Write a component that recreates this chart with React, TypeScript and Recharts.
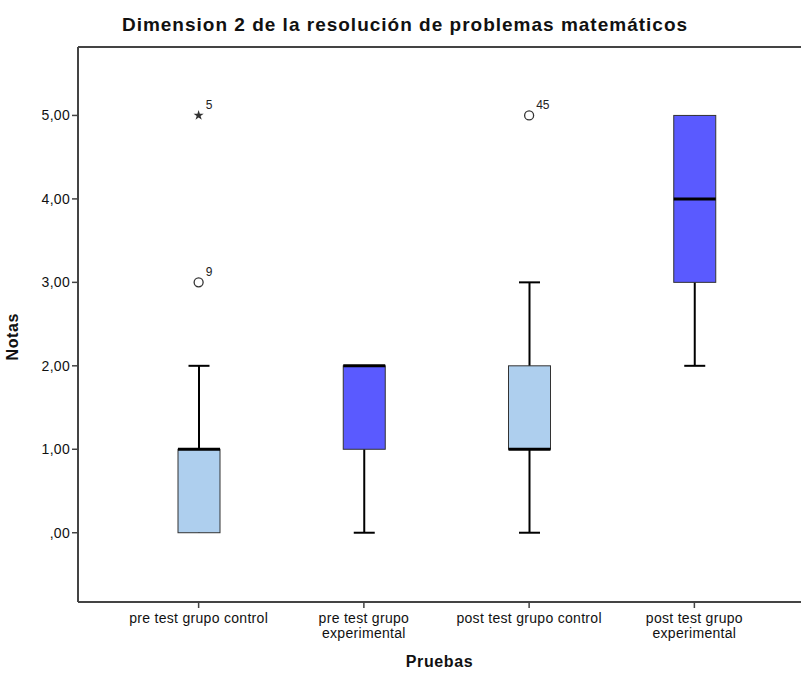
import React from 'react';
import { ComposedChart, Bar, Line, XAxis, YAxis, ReferenceLine, Symbols, Cell } from 'recharts';

const categories = [
  'pre test grupo control',
  'pre test grupo\nexperimental',
  'post test grupo control',
  'post test grupo\nexperimental',
];
const whiskerLow = [0, 0, 0, 2];
const whiskerHigh = [2, 2, 3, 5];
const q1 = [0, 1, 1, 3];
const median = [1, 2, 1, 4];
const q3 = [1, 2, 2, 5];
const outliers = [3, null, 5, null];
const outlierIds = ['9', null, '45', null];
const extremes = [5, null, null, null];
const extremeIds = ['5', null, null, null];
const yTicks = [0, 1, 2, 3, 4, 5];
const yDomain = [-0.83, 5.82];

const boxFills = ['#AECFEE', '#5A5AFF', '#AECFEE', '#5A5AFF'];
const FONT = '"Liberation Sans", Arial, sans-serif';
const FRAME = '#444';

const data = categories.map((name, i) => ({
  name,
  whisker: [whiskerLow[i], whiskerHigh[i]],
  box: [q1[i], q3[i]],
  med: [whiskerLow[i], median[i]],
  outlier: outliers[i],
  outlierId: outlierIds[i],
  extreme: extremes[i],
  extremeId: extremeIds[i],
}));

const Whisker = (p: any) => {
  const { x, y, width, height, payload } = p;
  const cx = x + width / 2;
  const top = Math.min(y, y + height);
  const bot = Math.max(y, y + height);
  const half = width / 4;
  const [lo, hi] = payload.whisker;
  const [b1, b3] = payload.box;
  return (
    <g>
      <line x1={cx} x2={cx} y1={top} y2={bot} stroke="#000" strokeWidth={2} />
      {hi > b3 && <line x1={cx - half} x2={cx + half} y1={top} y2={top} stroke="#000" strokeWidth={2} />}
      {lo < b1 && <line x1={cx - half} x2={cx + half} y1={bot} y2={bot} stroke="#000" strokeWidth={2} />}
    </g>
  );
};

const Box = (p: any) => {
  const { x, y, width, height, fill } = p;
  const top = Math.min(y, y + height);
  return <rect x={x} y={top} width={width} height={Math.abs(height)} fill={fill} stroke="#333" strokeWidth={1} />;
};

const Median = (p: any) => {
  const { x, y, width } = p;
  return <line x1={x} x2={x + width} y1={y} y2={y} stroke="#000" strokeWidth={3} />;
};

const OutlierDot = (p: any) => {
  const { cx, cy, payload } = p;
  if (cy == null || payload.outlier == null) return <g key={p.key} />;
  return (
    <g key={p.key}>
      <circle cx={cx} cy={cy} r={4.5} fill="#fff" stroke="#333" strokeWidth={1.3} />
      <text x={cx + 7} y={cy - 6} fontSize={12} fontFamily={FONT} fill="#222">{payload.outlierId}</text>
    </g>
  );
};

const ExtremeDot = (p: any) => {
  const { cx, cy, payload } = p;
  if (cy == null || payload.extreme == null) return <g key={p.key} />;
  return (
    <g key={p.key}>
      <Symbols cx={cx} cy={cy} type="star" size={32} fill="#333" />
      <text x={cx + 7} y={cy - 6} fontSize={12} fontFamily={FONT} fill="#222">{payload.extremeId}</text>
    </g>
  );
};

const XTick = ({ x, y, payload }: any) => {
  const lines = String(payload.value).split('\n');
  return (
    <text x={x} y={y} textAnchor="middle" fontSize={14} letterSpacing={0.3} fontFamily={FONT} fill="#111">
      {lines.map((l, i) => (
        <tspan key={i} x={x} dy={i === 0 ? 13 : 15}>{l}</tspan>
      ))}
    </text>
  );
};

const fmt = (v: number) => (v === 0 ? ',00' : v.toFixed(2).replace('.', ','));

const xPad = { left: 38, right: 24 };

export default function App() {
  return (
    <div style={{ position: 'absolute', left: 0, top: 0, width: 801, height: 673, background: '#fff' }}>
      <div
        style={{
          position: 'absolute', left: 0, top: 14, width: 810, textAlign: 'center',
          fontFamily: FONT, fontWeight: 'bold', fontSize: 19, letterSpacing: 1, color: '#111',
        }}
      >
        Dimension 2 de la resolución de problemas matemáticos
      </div>
      <ComposedChart
        width={801}
        height={673}
        data={data}
        margin={{ top: 47, right: 0, bottom: 0, left: 10 }}
      >
        <XAxis
          xAxisId="a"
          dataKey="name"
          type="category"
          padding={xPad}
          height={71}
          interval={0}
          axisLine={{ stroke: FRAME, strokeWidth: 2 }}
          tickLine={{ stroke: FRAME, strokeWidth: 1.5 }}
          tickSize={6}
          tick={<XTick />}
          label={{ value: 'Pruebas', position: 'insideBottom', offset: 6, fontSize: 16, letterSpacing: 0.6, fontWeight: 'bold', fontFamily: FONT, fill: '#111' }}
        />
        <XAxis xAxisId="b" dataKey="name" type="category" padding={xPad} hide />
        <XAxis xAxisId="c" dataKey="name" type="category" padding={xPad} hide />
        <YAxis
          width={68}
          type="number"
          domain={yDomain}
          allowDataOverflow
          ticks={yTicks}
          tickFormatter={fmt}
          axisLine={{ stroke: FRAME, strokeWidth: 2 }}
          tickLine={{ stroke: FRAME, strokeWidth: 1.5 }}
          tickSize={6}
          tick={{ fontSize: 14, letterSpacing: 0.3, fontFamily: FONT, fill: '#111' }}
          label={{ value: 'Notas', angle: -90, position: 'insideLeft', offset: 2, dy: 36, fontSize: 16, letterSpacing: 0.6, fontWeight: 'bold', fontFamily: FONT, fill: '#111' }}
        />
        <ReferenceLine xAxisId="a" y={yDomain[1]} stroke={FRAME} strokeWidth={2} />
        <Bar xAxisId="a" dataKey="whisker" barSize={42} shape={<Whisker />} isAnimationActive={false} />
        <Bar xAxisId="b" dataKey="box" barSize={42} shape={<Box />} isAnimationActive={false}>
          {data.map((d, i) => (
            <Cell key={d.name} fill={boxFills[i]} />
          ))}
        </Bar>
        <Bar xAxisId="c" dataKey="med" barSize={42} shape={<Median />} isAnimationActive={false} />
        <Line xAxisId="a" dataKey="outlier" stroke="none" dot={OutlierDot} activeDot={false} isAnimationActive={false} />
        <Line xAxisId="a" dataKey="extreme" stroke="none" dot={ExtremeDot} activeDot={false} isAnimationActive={false} />
      </ComposedChart>
    </div>
  );
}
